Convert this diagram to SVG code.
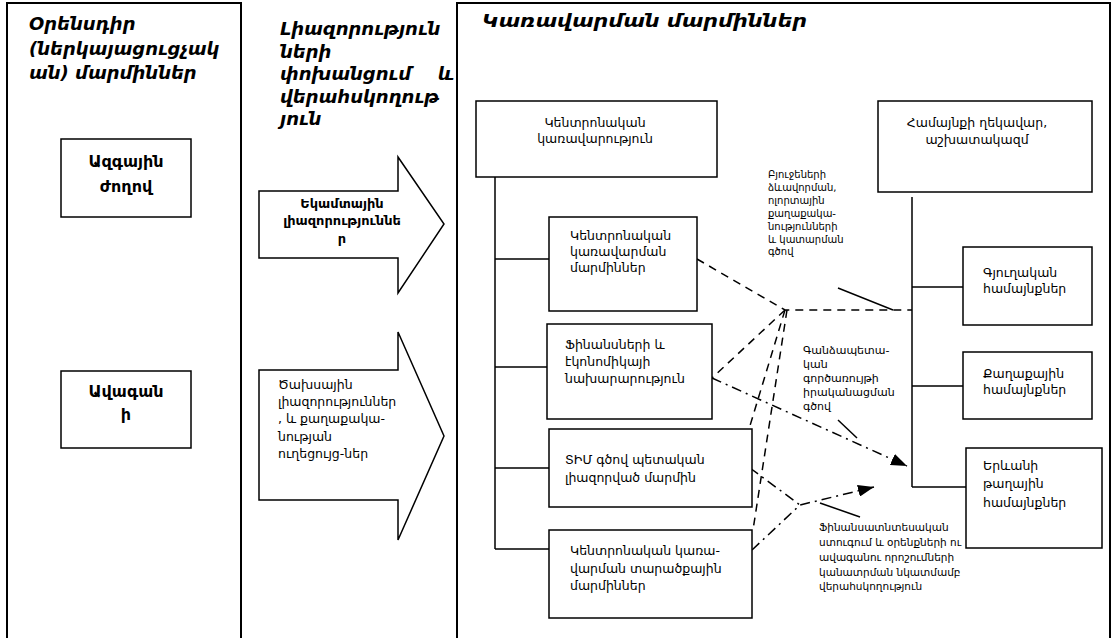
<svg xmlns="http://www.w3.org/2000/svg" width="1118" height="638" viewBox="0 0 1118 638">
<style>
text{font-family:"DejaVu Sans","Noto Sans",sans-serif;fill:#000}
.hd{font-size:18px;font-weight:bold;font-style:italic}
.bb{font-size:16px;font-weight:bold}
.t{font-size:12.5px}
.s{font-size:10px}
.m{font-size:11px}
.frame{fill:none;stroke:#000;stroke-width:2}
.box{fill:#fff;stroke:#000;stroke-width:1.5}
.ln{fill:none;stroke:#000;stroke-width:1.5}
.dash{fill:none;stroke:#000;stroke-width:1.5;stroke-dasharray:8 6}
.dd{fill:none;stroke:#000;stroke-width:1.5;stroke-dasharray:10 5 2 5}
</style>
<defs>
<marker id="ah" viewBox="0 0 16 12" refX="16" refY="6" markerWidth="16" markerHeight="12" markerUnits="userSpaceOnUse" orient="auto">
<path d="M0,0 L16,6 L0,12 z" fill="#000"/>
</marker>
</defs>
<rect width="1118" height="638" fill="#fff"/>
<g id="col-legislative">
<rect class="frame" x="7" y="3" width="234" height="650"/>
<text class="hd" x="29" y="30">Օրենսդիր</text>
<text class="hd" x="29" y="55">(ներկայացուցչակ</text>
<text class="hd" x="29" y="79">ան) մարմիններ</text>
</g>
<g id="col-transfer">
<text class="hd" x="280" y="35">Լիազորություն</text>
<text class="hd" x="280" y="58">ների</text>
<text class="hd" x="280" y="80">փոխանցում</text>
<text class="hd" x="454" y="80" text-anchor="end">և</text>
<text class="hd" x="280" y="103">վերահսկողութ</text>
<text class="hd" x="280" y="125">յուն</text>
</g>
<g id="col-management">
<rect class="frame" x="457" y="3" width="653" height="650"/>
<text class="hd" x="482" y="27" textLength="325" lengthAdjust="spacingAndGlyphs">Կառավարման մարմիններ</text>
</g>
<g id="national-assembly">
<rect class="box" x="61" y="139" width="130" height="78"/>
<text class="bb" x="126" y="167" text-anchor="middle">Ազգային</text>
<text class="bb" x="126" y="192" text-anchor="middle">ժողով</text>
</g>
<g id="council">
<rect class="box" x="61" y="371" width="130" height="77"/>
<text class="bb" x="126" y="397" text-anchor="middle">Ավագան</text>
<text class="bb" x="126" y="420" text-anchor="middle">ի</text>
</g>
<g id="arrow-revenue">
<path class="box" d="M259,191 L398,191 L398,157 L444,224 L398,293 L398,258 L259,258 z"/>
<text class="bb" x="342" y="208" text-anchor="middle" style="font-size:13px">Եկամտային</text>
<text class="bb" x="342" y="225" text-anchor="middle" style="font-size:13px">լիազորություննե</text>
<text class="bb" x="342" y="243" text-anchor="middle" style="font-size:13px">ր</text>
</g>
<g id="arrow-expense">
<path class="box" d="M259,370 L398,370 L398,332 L444,436 L398,540 L398,500 L259,500 z"/>
<text class="t" x="278" y="389">Ծախսային</text>
<text class="t" x="278" y="406">լիազորություններ</text>
<text class="t" x="278" y="423">, և քաղաքակա-</text>
<text class="t" x="278" y="441">նության</text>
<text class="t" x="278" y="458">ուղեցույց-ներ</text>
</g>
<g id="connectors">
<path class="ln" d="M495,177 L495,549 M495,259 L549,259 M495,367 L547,367 M495,468 L549,468 M495,549 L549,549"/>
<path class="ln" d="M912,197 L912,487 M912,287 L963,287 M912,386 L963,386 M912,487 L966,487"/>
<path class="dash" d="M697,259 L785,310 L912,310"/>
<path class="dash" d="M785,310 L712,378"/>
<path class="dash" d="M785,310 L749,429"/>
<path class="dash" d="M787,310 L753,530"/>
<path class="ln" d="M838,288 L893,310"/>
<path class="ln" d="M838,420 L857,438"/>
<path class="ln" d="M820,503 L860,517"/>
<path class="dd" d="M712,378 L907,466" marker-end="url(#ah)"/>
<path class="dd" d="M750,468 L800,505"/>
<path class="dd" d="M752,550 L800,505 L874,487" marker-end="url(#ah)"/>
</g>
<g id="central-government">
<rect class="box" x="476" y="101" width="241" height="76"/>
<text class="t" x="595" y="127" text-anchor="middle">Կենտրոնական</text>
<text class="t" x="595" y="143" text-anchor="middle">կառավարություն</text>
</g>
<g id="central-bodies">
<rect class="box" x="549" y="217" width="148" height="94"/>
<text class="t" x="570" y="240">Կենտրոնական</text>
<text class="t" x="570" y="256">կառավարման</text>
<text class="t" x="570" y="272">մարմիններ</text>
</g>
<g id="ministry-finance">
<rect class="box" x="547" y="324" width="165" height="95"/>
<text class="t" x="565" y="349">Ֆինանսների և</text>
<text class="t" x="565" y="366">էկոնոմիկայի</text>
<text class="t" x="565" y="383">նախարարություն</text>
</g>
<g id="lsg-authority">
<rect class="box" x="549" y="429" width="203" height="78"/>
<text class="t" x="565" y="464">ՏԻՄ գծով պետական</text>
<text class="t" x="565" y="482">լիազորված մարմին</text>
</g>
<g id="territorial-bodies">
<rect class="box" x="549" y="530" width="203" height="88"/>
<text class="t" x="570" y="555">Կենտրոնական կառա-</text>
<text class="t" x="570" y="573">վարման տարածքային</text>
<text class="t" x="570" y="590">մարմիններ</text>
</g>
<g id="community-head">
<rect class="box" x="878" y="101" width="214" height="91"/>
<text class="t" x="977" y="127" text-anchor="middle">Համայնքի ղեկավար,</text>
<text class="t" x="977" y="144" text-anchor="middle">աշխատակազմ</text>
</g>
<g id="rural">
<rect class="box" x="963" y="247" width="129" height="78"/>
<text class="t" x="983" y="277">Գյուղական</text>
<text class="t" x="983" y="293">համայնքներ</text>
</g>
<g id="urban">
<rect class="box" x="963" y="352" width="129" height="67"/>
<text class="t" x="983" y="378">Քաղաքային</text>
<text class="t" x="983" y="394">համայնքներ</text>
</g>
<g id="yerevan">
<rect class="box" x="966" y="448" width="136" height="100"/>
<text class="t" x="983" y="470">Երևանի</text>
<text class="t" x="983" y="488">թաղային</text>
<text class="t" x="983" y="507">համայնքներ</text>
</g>
<g id="label-budget">
<text class="s" x="768" y="178">Բյուջեների</text>
<text class="s" x="768" y="191">ձևավորման,</text>
<text class="s" x="768" y="204">ոլորտային</text>
<text class="s" x="768" y="217">քաղաքակա-</text>
<text class="s" x="768" y="230">նությունների</text>
<text class="s" x="768" y="243">և կատարման</text>
<text class="s" x="768" y="255">գծով</text>
</g>
<g id="label-treasury">
<text class="m" x="803" y="354">Գանձապետա-</text>
<text class="m" x="803" y="368">կան</text>
<text class="m" x="803" y="382">գործառույթի</text>
<text class="m" x="803" y="396">իրականացման</text>
<text class="m" x="803" y="410">գծով</text>
</g>
<g id="label-audit">
<text class="m" x="819" y="531" style="font-size:10.5px">Ֆինանսատնտեսական</text>
<text class="m" x="819" y="546" style="font-size:10.5px">ստուգում և օրենքների ու</text>
<text class="m" x="819" y="561" style="font-size:10.5px">ավագանու որոշումների</text>
<text class="m" x="819" y="576" style="font-size:10.5px">կանատրման նկատմամբ</text>
<text class="m" x="819" y="590" style="font-size:10.5px">վերահսկողություն</text>
</g>
</svg>
